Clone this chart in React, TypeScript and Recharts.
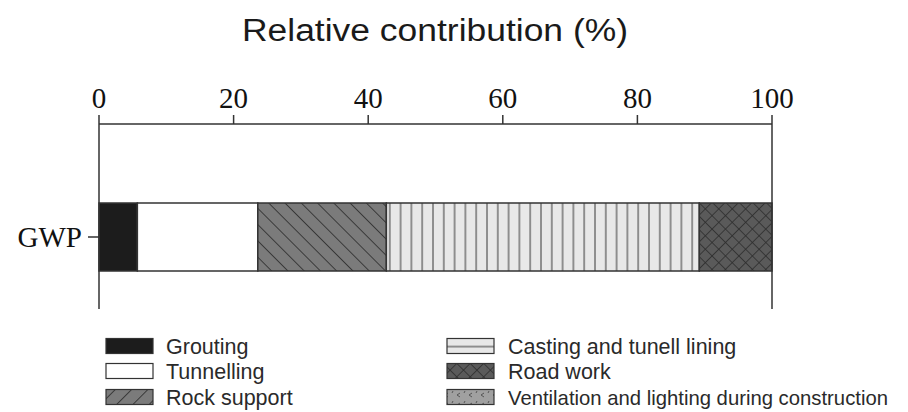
import React from "react";
import { BarChart, Bar, XAxis, YAxis, ReferenceLine } from "recharts";

const categories = ["GWP"];
const grouting = [5.7];
const tunnelling = [17.9];
const rockSupport = [19.1];
const casting = [46.5];
const roadWork = [10.8];
const ventilation = [0];
const xTicks = [0, 20, 40, 60, 80, 100];

const series = [
  { key: "grouting", name: "Grouting", values: grouting, fill: "#1c1c1c" },
  { key: "tunnelling", name: "Tunnelling", values: tunnelling, fill: "#ffffff" },
  { key: "rock", name: "Rock support", values: rockSupport, fill: "url(#pRock)" },
  { key: "casting", name: "Casting and tunell lining", values: casting, fill: "url(#pCast)" },
  { key: "road", name: "Road work", values: roadWork, fill: "url(#pRoad)" },
  { key: "vent", name: "Ventilation and lighting during construction", values: ventilation, fill: "url(#pVent)" },
];

const data = categories.map((name, i) => {
  const row: Record<string, string | number> = { name };
  series.forEach((s) => (row[s.key] = s.values[i]));
  return row;
});

const sans = "'Liberation Sans', Arial, sans-serif";
const serif = "'Liberation Serif', 'Times New Roman', serif";

function Patterns({ p, legend }: { p: string; legend?: boolean }) {
  return (
    <defs>
      <pattern id={p + "Rock"} width="11.5" height="11.5" patternUnits="userSpaceOnUse" patternTransform={legend ? "rotate(45)" : "rotate(-45)"}>
        <rect width="11.5" height="11.5" fill="#7b7b7b" />
        <line x1="0" y1="0" x2="0" y2="11.5" stroke="#2a2a2a" strokeWidth="1.6" />
      </pattern>
      <pattern id={p + "Cast"} width="10.8" height="10.8" patternUnits="userSpaceOnUse" patternTransform={legend ? "rotate(90)" : undefined}>
        <rect width="10.8" height="10.8" fill="#e8e8e8" />
        <line x1="1" y1="0" x2="1" y2="10.8" stroke="#6a6a6a" strokeWidth="1.4" />
      </pattern>
      <pattern id={p + "Road"} width="9.5" height="9.5" patternUnits="userSpaceOnUse" patternTransform="rotate(45)">
        <rect width="9.5" height="9.5" fill="#5a5a5a" />
        <line x1="0" y1="0" x2="0" y2="9.5" stroke="#2e2e2e" strokeWidth="1.6" />
        <line x1="0" y1="0" x2="9.5" y2="0" stroke="#2e2e2e" strokeWidth="1.6" />
      </pattern>
      <pattern id={p + "Vent"} width="12" height="10" patternUnits="userSpaceOnUse">
        <rect width="12" height="10" fill="#a0a0a0" />
        <path d="M4 3 L1 5 L4 7 M9 1 L8 3" stroke="#555" strokeWidth="1" fill="none" />
      </pattern>
    </defs>
  );
}

function Legend() {
  const left = series.slice(0, 3);
  const right = series.slice(3);
  const rowY = [346, 371, 397];
  const swatch = (s: (typeof series)[number], x: number, y: number, w: number) => (
    <rect
      x={x}
      y={y - 7.5}
      width={w}
      height={15}
      fill={s.fill.replace("#p", "#l")}
      stroke="#333"
      strokeWidth={1.2}
    />
  );
  return (
    <svg width={908} height={412} style={{ position: "absolute", left: 0, top: 0, pointerEvents: "none" }}>
      <Patterns p="l" legend />
      <text x={435} y={41} textAnchor="middle" fontFamily={sans} fontSize={31} fill="#1a1a1a" textLength={386} lengthAdjust="spacingAndGlyphs">
        Relative contribution (%)
      </text>
      {left.map((s, i) => (
        <g key={s.key}>
          {swatch(s, 106, rowY[i], 47)}
          <text x={166} y={rowY[i] + 7.5} fontFamily={sans} fontSize={21.5} fill="#2a2a2a">
            {s.name}
          </text>
        </g>
      ))}
      {right.map((s, i) => (
        <g key={s.key}>
          {swatch(s, 447, rowY[i], 47)}
          <text
            x={508}
            y={rowY[i] + 7.5}
            fontFamily={sans}
            fontSize={s.key === "vent" ? 20.3 : 21.5}
            fill="#2a2a2a"
          >
            {s.name}
          </text>
        </g>
      ))}
    </svg>
  );
}

export default function App() {
  return (
    <div style={{ position: "absolute", left: 0, top: 0, width: 908, height: 412, background: "#fff", overflow: "hidden" }}>
      <BarChart
        width={908}
        height={314}
        data={data}
        layout="vertical"
        margin={{ top: 94, right: 136, bottom: 5, left: 0 }}
      >
        <Patterns p="p" />
        <XAxis
          type="number"
          orientation="top"
          domain={[0, 100]}
          ticks={xTicks}
          height={30}
          tickSize={9}
          tickMargin={7}
          tick={{ fill: "#111", fontSize: 29, fontFamily: serif }}
          axisLine={{ stroke: "#333", strokeWidth: 1.5 }}
          tickLine={{ stroke: "#333", strokeWidth: 1.5 }}
        />
        <YAxis
          type="category"
          dataKey="name"
          width={99}
          padding={{ top: 41, bottom: 0 }}
          tickSize={11}
          tickMargin={6}
          tick={{ fill: "#111", fontSize: 29, fontFamily: serif }}
          axisLine={{ stroke: "#333", strokeWidth: 1.5 }}
          tickLine={{ stroke: "#333", strokeWidth: 1.5 }}
        />
        <ReferenceLine x={100} stroke="#333" strokeWidth={1.5} />
        {series.map((s) => (
          <Bar
            key={s.key}
            dataKey={s.key}
            name={s.name}
            stackId="a"
            fill={s.fill}
            stroke="#333"
            strokeWidth={1.5}
            barSize={68}
            isAnimationActive={false}
          />
        ))}
      </BarChart>
      <Legend />
    </div>
  );
}
